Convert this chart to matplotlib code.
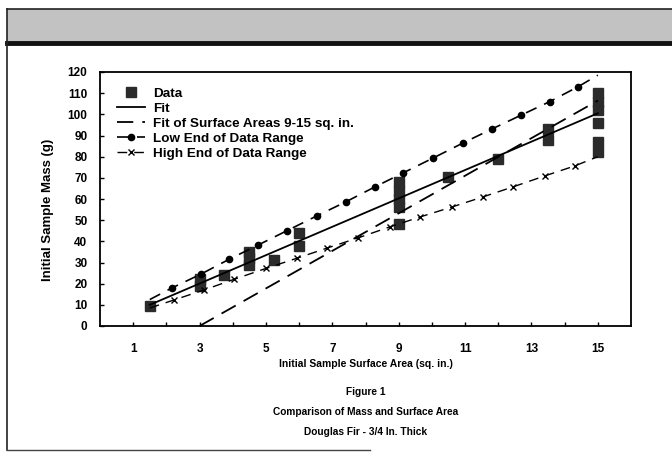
import matplotlib.pyplot as plt
import matplotlib.patches as patches

plt.rcParams['font.family'] = ['Liberation Sans', 'DejaVu Sans']
plt.rcParams['font.weight'] = 'bold'

# measured samples
data_x = [1.5, 3, 3, 3.75, 4.5, 4.5, 4.5, 5.25, 6, 6,
          9, 9, 9, 9, 9, 10.5, 12, 13.5, 13.5,
          15, 15, 15, 15, 15, 15]
data_y = [9.5, 19, 22, 24, 29, 32, 35, 31, 38, 44,
          48, 56, 60, 64, 68, 70.5, 79, 88, 93,
          82, 87, 96, 102, 106, 110]

# fitted lines
fit_x = [1.5, 15]
fit_y = [10, 100.5]
fit915_x = [3, 15]
fit915_y = [0, 106.5]

# range lines (first/last point are line ends, no marker)
low_x = [1.5, 2.17, 3.04, 3.9, 4.77, 5.63, 6.53, 7.4, 8.28, 9.13,
         10.03, 10.93, 11.8, 12.7, 13.55, 14.4, 15]
low_y = [12.5, 18, 24.5, 31.6, 38.3, 45, 52, 58.6, 65.7, 72.3,
         79.3, 86.4, 93, 99.7, 106, 113, 118.5]
high_x = [1.5, 2.23, 3.13, 4.03, 5.0, 5.93, 6.84, 7.77, 8.73, 9.64,
          10.6, 11.54, 12.44, 13.4, 14.3, 15]
high_y = [8.5, 12.3, 17, 22, 27.2, 32, 36.8, 41.6, 46.8, 51.5,
          56.2, 61, 65.7, 70.9, 75.6, 80]

xticks = list(range(1, 16))
xticklabels = [str(t) if t % 2 == 1 else '' for t in xticks]
yticks = list(range(0, 121, 10))

fig = plt.figure(figsize=(6.72, 4.55), dpi=100)

# page decoration: grey header band and border
fig.patches.append(patches.Rectangle((7 / 672, 1 - 42 / 455), 1, 33 / 455,
                                     transform=fig.transFigure, facecolor='#c2c2c2',
                                     edgecolor='none'))
fig.add_artist(plt.Line2D([7 / 672, 1], [1 - 9 / 455, 1 - 9 / 455], color='#222', lw=1.2))
fig.add_artist(plt.Line2D([7 / 672, 1], [1 - 42.5 / 455, 1 - 42.5 / 455], color='#111', lw=3.5))
fig.add_artist(plt.Line2D([7 / 672, 7 / 672], [1 - 9 / 455, 1 - 450 / 455], color='#222', lw=1.2))
fig.add_artist(plt.Line2D([7 / 672, 370 / 672], [1 - 450 / 455, 1 - 450 / 455], color='#444', lw=1.0))

ax = fig.add_axes([100 / 672, 1 - 326 / 455, 531 / 672, 254 / 455])

ax.plot(data_x, data_y, linestyle='none', marker='s', markersize=6.5,
        color='#2b2b2b', label='Data')
ax.plot(fit_x, fit_y, color='black', lw=1.3, label='Fit')
ax.plot(fit915_x, fit915_y, color='black', lw=1.3, dashes=(9, 5),
        label='Fit of Surface Areas 9-15 sq. in.')
ax.plot(low_x, low_y, color='black', lw=1.2, dashes=(7, 5), marker='o',
        markersize=4.5, markevery=slice(1, -1), label='Low End of Data Range')
ax.plot(high_x, high_y, color='black', lw=1.0, dashes=(7, 5), marker='x',
        markersize=5, markeredgewidth=1.0, markevery=slice(1, -1),
        label='High End of Data Range')

ax.set_xlim(0, 16)
ax.set_ylim(0, 120)
ax.set_xticks(xticks)
ax.set_xticklabels(xticklabels)
ax.set_yticks(yticks)
ax.tick_params(direction='in', length=3, width=1, labelsize=8.5)
ax.tick_params(axis='x', pad=12)
ax.tick_params(axis='y', pad=9)
for s in ax.spines.values():
    s.set_linewidth(1.3)

ax.set_xlabel('Initial Sample Surface Area (sq. in.)', fontsize=7.5, fontweight='bold')
ax.xaxis.set_label_coords(0.5, -0.13)
ax.set_ylabel('Initial Sample Mass (g)', fontsize=9.5, fontweight='bold')
ax.yaxis.set_label_coords(-0.087, 0.457)

ax.legend(loc='upper left', bbox_to_anchor=(0.032, 0.94), frameon=False,
          fontsize=9.7, handlelength=2.1, labelspacing=0.2, numpoints=1,
          handletextpad=0.6, borderaxespad=0, borderpad=0)

cx = (100 + 631) / 2 / 672
fig.text(cx, 1 - 392 / 455, 'Figure 1', ha='center', va='center', fontsize=7.3)
fig.text(cx, 1 - 412 / 455, 'Comparison of Mass and Surface Area', ha='center',
         va='center', fontsize=7.3)
fig.text(cx, 1 - 432 / 455, 'Douglas Fir - 3/4 In. Thick', ha='center',
         va='center', fontsize=7.3)

fig.savefig('out.png', dpi=100)
